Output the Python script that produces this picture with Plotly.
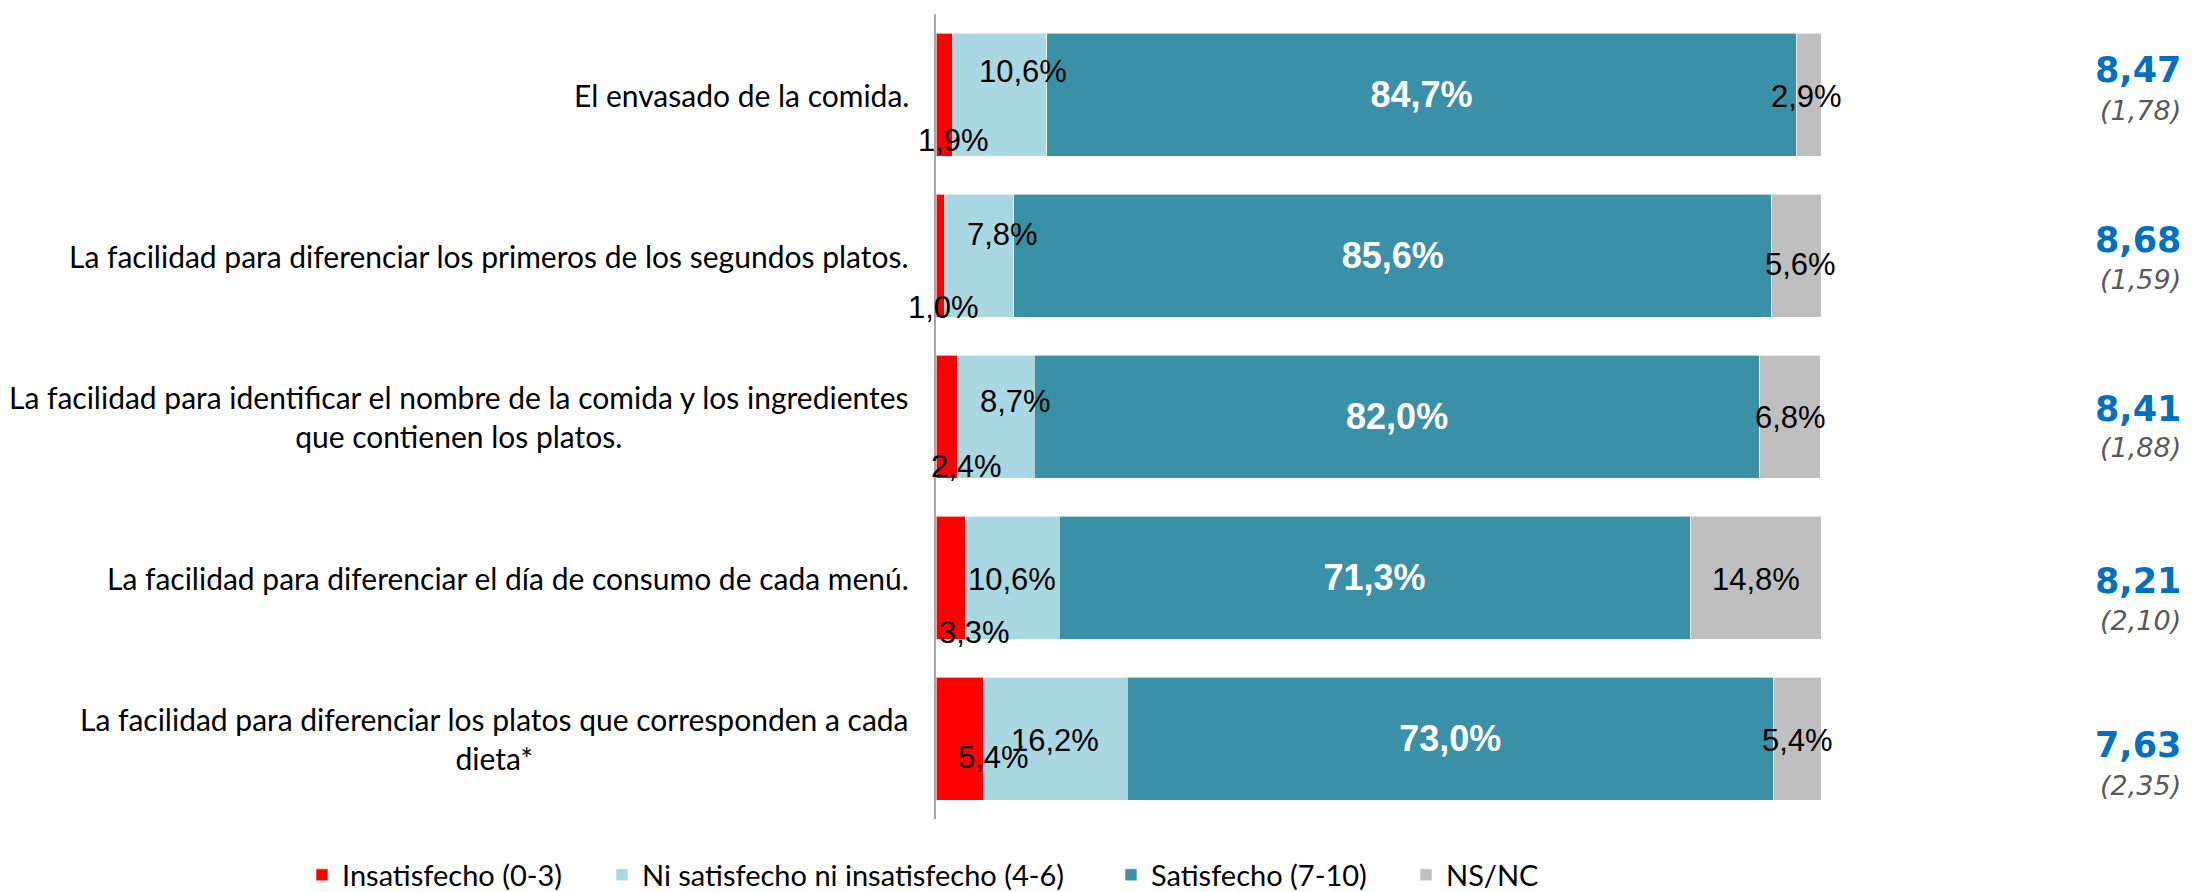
import plotly.graph_objects as go

# ---------------- data ----------------
categories = [
    "El envasado de la comida.",
    "La facilidad para diferenciar los primeros de los segundos platos.",
    "La facilidad para identificar el nombre de la comida y los ingredientes<br>que contienen los platos.",
    "La facilidad para diferenciar el día de consumo de cada menú.",
    "La facilidad para diferenciar los platos que corresponden a cada<br>dieta*",
]
series_names = ["Insatisfecho (0-3)", "Ni satisfecho ni insatisfecho (4-6)",
                "Satisfecho (7-10)", "NS/NC"]
insatisfecho = [1.9, 1.0, 2.4, 3.3, 5.4]
ni_ni = [10.6, 7.8, 8.7, 10.6, 16.2]
satisfecho = [84.7, 85.6, 82.0, 71.3, 73.0]
nsnc = [2.9, 5.6, 6.8, 14.8, 5.4]
medias = [8.47, 8.68, 8.41, 8.21, 7.63]
desviaciones = [1.78, 1.59, 1.88, 2.10, 2.35]

# ---------------- styles ----------------
colors = ["#FF0000", "#A9D7E2", "#3A91A7", "#BFBFBF"]
W, H = 2193, 892
ML, MR, MT, MB = 936, 372, 14, 73
LABEL_FONT = "Liberation Sans, Arial, sans-serif"
CAT_FONT = "Lato, sans-serif"
VAL_FONT = "DejaVu Sans, Verdana, sans-serif"

# label offsets (px, right / down) for the small segments
red_off = [(9, 46), (3, 52), (20, 50), (24, 55), (34, 19)]
lb_off = [(23, -23), (23, -21), (20, -15), (0, 2), (0, 2)]
gray_off = [(-3, 2), (4, 9), (0, 1), (0, 2), (0, 2)]
mean_off = [-25, -16, -8, 3, 6]
sd_off = [16, 24, 31, 43, 47]
legend_px = [302, 602, 1111, 1406]   # left edge of each legend entry
legend_names = ["legend", "legend2", "legend3", "legend4"]


def fmt(v):
    return f"{v:.1f}%".replace(".", ",")


plot_w = W - ML - MR
plot_h = H - MT - MB

fig = go.Figure()
all_series = [insatisfecho, ni_ni, satisfecho, nsnc]
for name, vals, col, lg in zip(series_names, all_series, colors, legend_names):
    is_main = name == "Satisfecho (7-10)"
    fig.add_trace(go.Bar(
        y=categories, x=vals, name=name, orientation="h", legend=lg,
        marker=dict(color=col, line=dict(color="rgba(255,255,255,0.6)", width=1)),
        text=[fmt(v) for v in vals] if is_main else None,
        textposition="inside" if is_main else "none",
        insidetextanchor="middle",
        textfont=dict(family=LABEL_FONT, size=36, color="white", weight="bold"),
        constraintext="none",
        hoverinfo="skip",
    ))

annotations = []
xr = (2183 - ML) / plot_w
for i, cat in enumerate(categories):
    starts = [0.0]
    for s in all_series[:-1]:
        starts.append(starts[-1] + s[i])
    for k, offs in [(0, red_off), (1, lb_off), (3, gray_off)]:
        v = all_series[k][i]
        cx = starts[k] + v / 2
        dx, dy = offs[i]
        annotations.append(dict(
            x=cx, y=cat, xref="x", yref="y", text=fmt(v), showarrow=False,
            xshift=dx, yshift=-dy, xanchor="center", yanchor="middle",
            font=dict(family=LABEL_FONT, size=31, color="black"),
        ))
    annotations.append(dict(
        x=0, y=cat, xref="paper", yref="y", text=cat, showarrow=False,
        xanchor="right", yanchor="middle", align="center", xshift=-25,
        font=dict(family=CAT_FONT, size=30, color="black"),
    ))
    annotations.append(dict(
        x=xr, y=cat, xref="paper", yref="y",
        text=f"{medias[i]:.2f}".replace(".", ","), showarrow=False,
        xanchor="right", yanchor="middle", yshift=-mean_off[i],
        font=dict(family=VAL_FONT, size=35, color="#0070C0", weight="bold"),
    ))
    annotations.append(dict(
        x=xr, y=cat, xref="paper", yref="y",
        text="(" + f"{desviaciones[i]:.2f}".replace(".", ",") + ")", showarrow=False,
        xanchor="right", yanchor="middle", yshift=-sd_off[i],
        font=dict(family=VAL_FONT, size=27, color="#595959", style="italic"),
    ))

legend_style = dict(orientation="h", xanchor="left",
                    y=(819 - 875) / plot_h, yanchor="middle",
                    font=dict(family=CAT_FONT, size=29, color="black"),
                    bgcolor="rgba(0,0,0,0)")
legends = {}
for lg, px in zip(legend_names, legend_px):
    legends[lg] = dict(legend_style, x=(px - ML) / plot_w)

fig.update_layout(
    width=W, height=H,
    margin=dict(l=ML, r=MR, t=MT, b=MB, pad=0, autoexpand=False),
    barmode="stack", bargap=0.236,
    plot_bgcolor="white", paper_bgcolor="white",
    xaxis=dict(range=[0, 100], visible=False, showgrid=False, zeroline=False),
    yaxis=dict(type="category", categoryorder="array", categoryarray=categories,
               range=[len(categories) - 0.5, -0.5], showticklabels=False,
               showgrid=False, zeroline=False, showline=True,
               linecolor="#A6A6A6", linewidth=2, ticks=""),
    showlegend=True,
    annotations=annotations,
    **legends,
)

fig.write_html("out.html", config={"displayModeBar": False})

with open("out.html", encoding="utf-8") as f:
    html = f.read()
html = html.replace("<head>", "<head><style>html,body{margin:0;padding:0;overflow:hidden;}</style>", 1)
with open("out.html", "w", encoding="utf-8") as f:
    f.write(html)
